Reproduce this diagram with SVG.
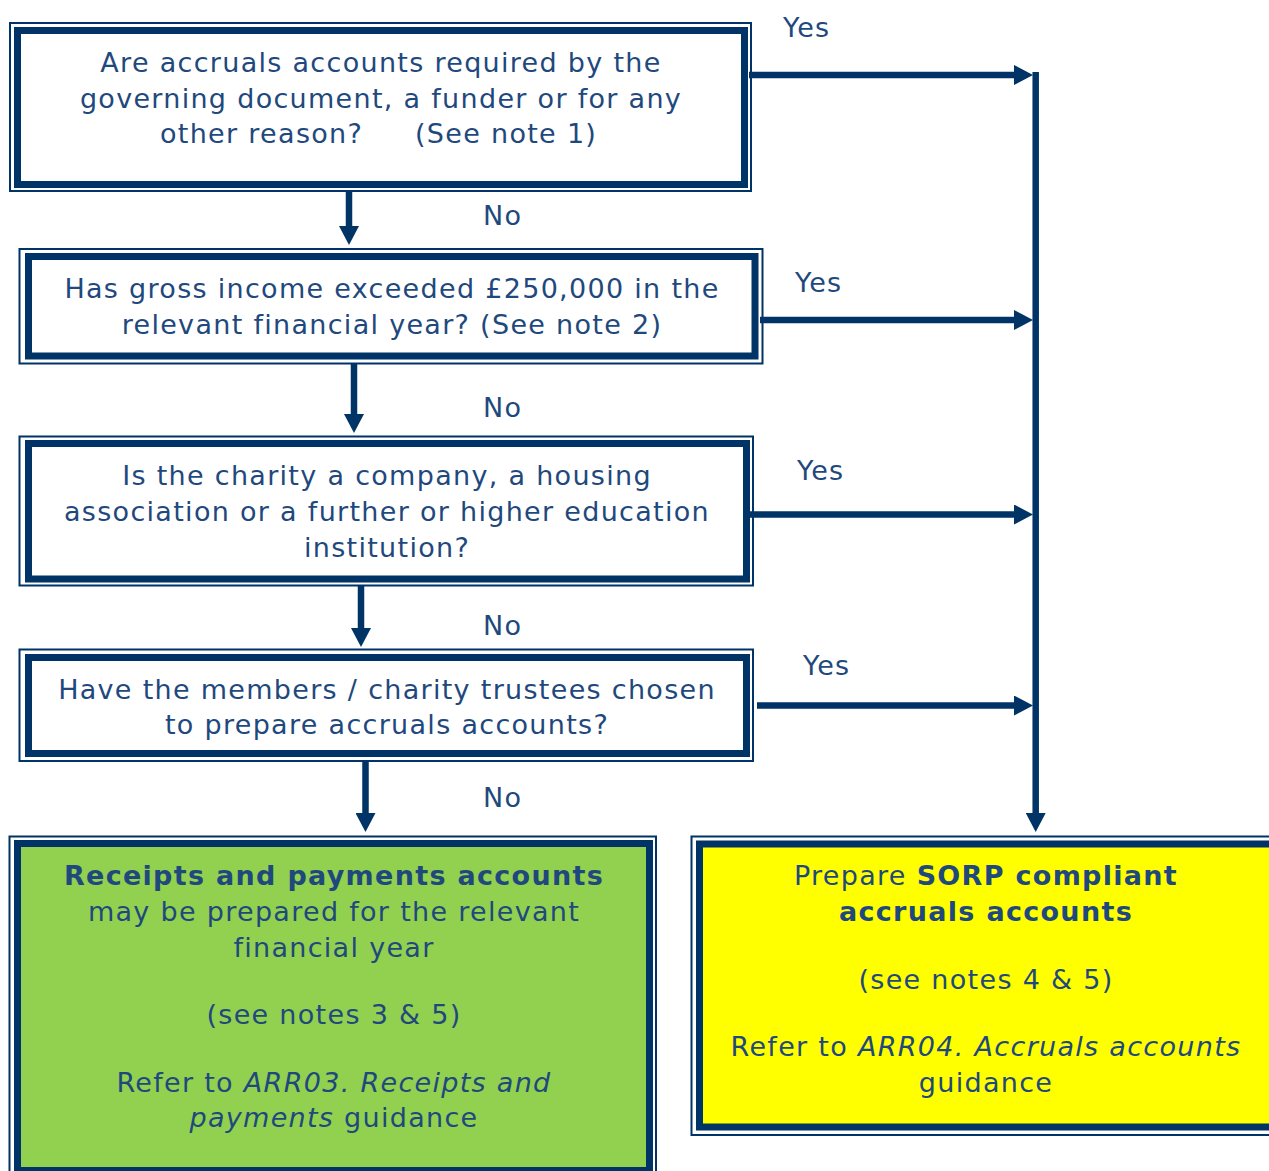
<svg xmlns="http://www.w3.org/2000/svg" width="1269" height="1171" viewBox="0 0 1269 1171">
<style>
.o{fill:none;stroke:#003366;stroke-width:2}
.i{fill:none;stroke:#003366;stroke-width:7}
.t{font-family:"DejaVu Sans","Verdana",sans-serif;font-size:27px;letter-spacing:1.3px;fill:#1F497D;text-anchor:middle}
.l{font-family:"DejaVu Sans","Verdana",sans-serif;font-size:27px;letter-spacing:1.3px;fill:#1F497D}
.b{font-weight:bold}
.it{font-style:italic}
.c{fill:none;stroke:#003366;stroke-width:6.5}
</style>
<defs>
<marker id="ah" markerUnits="userSpaceOnUse" viewBox="0 0 19 20" refX="2" refY="10" markerWidth="19" markerHeight="20" orient="auto">
<path d="M0,0 L19,10 L0,20 z" fill="#003366"/>
</marker>
</defs>
<rect width="1269" height="1171" fill="#fff"/>

<g id="q1">
<rect class="o" x="10" y="23" width="741" height="168"/>
<rect class="i" x="17.5" y="30.5" width="727" height="154"/>
<text class="t" x="381" y="72">Are accruals accounts required by the</text>
<text class="t" x="381" y="108">governing document, a funder or for any</text>
<text class="l" x="160" y="143">other reason?</text>
<text class="l" x="415" y="143">(See note 1)</text>
</g>

<g id="q2">
<rect class="o" x="19.5" y="249" width="743" height="114.5"/>
<rect class="i" x="28.5" y="256.5" width="726.5" height="99.5"/>
<text class="t" x="392" y="298">Has gross income exceeded £250,000 in the</text>
<text class="t" x="392" y="334">relevant financial year? (See note 2)</text>
</g>

<g id="q3">
<rect class="o" x="19.5" y="436.5" width="733.5" height="149"/>
<rect class="i" x="28.5" y="443.5" width="718" height="135.5"/>
<text class="t" x="387" y="485">Is the charity a company, a housing</text>
<text class="t" x="387" y="521">association or a further or higher education</text>
<text class="t" x="387" y="557">institution?</text>
</g>

<g id="q4">
<rect class="o" x="19.5" y="649.5" width="733.5" height="111.5"/>
<rect class="i" x="28.5" y="657.5" width="718" height="96"/>
<text class="t" x="387" y="699">Have the members / charity trustees chosen</text>
<text class="t" x="387" y="734">to prepare accruals accounts?</text>
</g>

<g id="rp">
<rect x="17.5" y="843.5" width="632" height="327" fill="#92D050"/>
<rect class="o" x="9.5" y="836.5" width="646.5" height="343.5"/>
<rect class="i" x="17.5" y="843.5" width="632" height="327"/>
<text class="t b" x="334" y="885">Receipts and payments accounts</text>
<text class="t" x="334" y="921">may be prepared for the relevant</text>
<text class="t" x="334" y="957">financial year</text>
<text class="t" x="334" y="1024">(see notes 3 &amp; 5)</text>
<text class="t" x="334" y="1092">Refer to <tspan class="it">ARR03. Receipts and</tspan></text>
<text class="t" x="334" y="1127"><tspan class="it">payments</tspan> guidance</text>
</g>

<g id="sorp">
<rect x="699.5" y="844" width="590" height="283" fill="#FFFF00"/>
<rect class="o" x="691.5" y="836.5" width="600" height="298.5"/>
<rect class="i" x="699.5" y="844" width="590" height="283"/>
<text class="t" x="986" y="885">Prepare <tspan class="b">SORP compliant</tspan></text>
<text class="t b" x="986" y="921">accruals accounts</text>
<text class="t" x="986" y="989">(see notes 4 &amp; 5)</text>
<text class="t" x="986" y="1056">Refer to <tspan class="it">ARR04. Accruals accounts</tspan></text>
<text class="t" x="986" y="1092">guidance</text>
</g>

<g id="connectors">
<path class="c" d="M749 75 H1016" marker-end="url(#ah)"/>
<path class="c" d="M760 320 H1016" marker-end="url(#ah)"/>
<path class="c" d="M747 514.5 H1016" marker-end="url(#ah)"/>
<path class="c" d="M757 705.5 H1016" marker-end="url(#ah)"/>
<path class="c" d="M1035.7 72 V815" marker-end="url(#ah)"/>
<path class="c" d="M349 191 V228" marker-end="url(#ah)"/>
<path class="c" d="M354 364 V416" marker-end="url(#ah)"/>
<path class="c" d="M361 586 V630" marker-end="url(#ah)"/>
<path class="c" d="M365.5 762 V815" marker-end="url(#ah)"/>
<text class="l" x="783" y="37">Yes</text>
<text class="l" x="795" y="292">Yes</text>
<text class="l" x="797" y="480">Yes</text>
<text class="l" x="803" y="675">Yes</text>
<text class="l" x="483" y="225">No</text>
<text class="l" x="483" y="417">No</text>
<text class="l" x="483" y="635">No</text>
<text class="l" x="483" y="807">No</text>
</g>
</svg>
